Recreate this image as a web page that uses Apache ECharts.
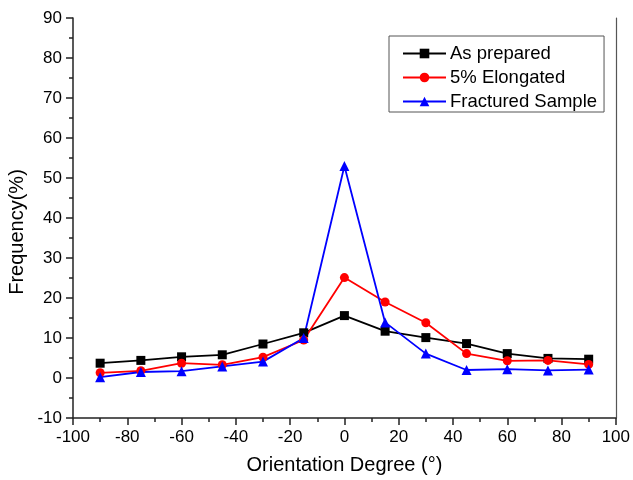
<!DOCTYPE html>
<html>
<head>
<meta charset="utf-8">
<script src="https://cdn.jsdelivr.net/npm/echarts@6/dist/echarts.min.js"></script>
<style>html,body{margin:0;padding:0;background:#fff}#c{width:633px;height:480px}</style>
</head>
<body>
<div id="c"></div>
<script>
const angles = [-90, -75, -60, -45, -30, -15, 0, 15, 30, 45, 60, 75, 90];
const asPrepared = [3.7, 4.4, 5.3, 5.8, 8.5, 11.3, 15.6, 11.7, 10.1, 8.6, 6.1, 4.9, 4.7];
const elongated = [1.3, 1.8, 3.7, 3.3, 5.2, 9.5, 25.1, 19.0, 13.8, 6.1, 4.3, 4.4, 3.4];
const fractured = [0.2, 1.5, 1.7, 2.9, 4.1, 10.0, 53.0, 13.9, 6.1, 2.0, 2.2, 1.9, 2.1];
const seriesNames = ['As prepared', '5% Elongated', 'Fractured Sample'];
const xTitle = 'Orientation Degree (°)';
const yTitle = 'Frequency(%)';

const FONT = 'Liberation Sans, Arial, sans-serif';
const pair = arr => angles.map((a, i) => [a, arr[i]]);

const chart = echarts.init(document.getElementById('c'), null, {renderer: 'canvas'});
chart.setOption({
  animation: false,
  backgroundColor: '#fff',
  grid: {left: 73, right: 16, top: 18, bottom: 58, containLabel: false},
  legend: {
    orient: 'vertical',
    left: 389, top: 36,
    padding: [8, 7, 1, 13],
    itemWidth: 43, itemHeight: 12, itemGap: 5,
    borderColor: '#555', borderWidth: 1,
    textStyle: {fontFamily: FONT, fontSize: 18.5, color: '#000', padding: [0, 0, 0, -1]},
    data: seriesNames
  },
  xAxis: {
    type: 'value', min: -100, max: 100, interval: 20,
    name: xTitle, nameLocation: 'middle', nameGap: 37,
    nameTextStyle: {fontFamily: FONT, fontSize: 20, color: '#000'},
    axisLine: {show: true, onZero: false, lineStyle: {color: '#222', width: 1.5}},
    axisTick: {show: true, inside: false, length: 7, lineStyle: {color: '#222', width: 1.5}},
    minorTick: {show: true, splitNumber: 2, length: 4, lineStyle: {color: '#222', width: 1.5}},
    axisLabel: {fontFamily: FONT, fontSize: 17, color: '#000', margin: 11},
    splitLine: {show: false}
  },
  yAxis: [{
    type: 'value', min: -10, max: 90, interval: 10,
    axisLine: {show: true, onZero: false, lineStyle: {color: '#222', width: 1.5}},
    axisTick: {show: true, inside: false, length: 7, lineStyle: {color: '#222', width: 1.5}},
    minorTick: {show: true, splitNumber: 2, length: 4, lineStyle: {color: '#222', width: 1.5}},
    axisLabel: {fontFamily: FONT, fontSize: 17, color: '#000', margin: 11},
    splitLine: {show: false}
  }, {
    type: 'value', min: -10, max: 90, interval: 10, position: 'right',
    axisLine: {show: true, onZero: false, lineStyle: {color: '#555', width: 1.2}},
    axisTick: {show: false}, axisLabel: {show: false}, splitLine: {show: false}
  }],
  graphic: [{
    type: 'text', x: 17, y: 232, rotation: Math.PI / 2,
    style: {text: yTitle, fontFamily: FONT, fontSize: 20, fill: '#000', align: 'center', verticalAlign: 'middle'}
  }],
  series: [
    {name: seriesNames[0], type: 'line', data: pair(asPrepared), symbol: 'rect', symbolSize: 9,
     lineStyle: {color: '#000', width: 1.8}, itemStyle: {color: '#000'}},
    {name: seriesNames[1], type: 'line', data: pair(elongated), symbol: 'circle', symbolSize: 9,
     lineStyle: {color: '#ff0000', width: 1.8}, itemStyle: {color: '#ff0000'}},
    {name: seriesNames[2], type: 'line', data: pair(fractured), symbol: 'triangle', symbolSize: 10,
     lineStyle: {color: '#0000ff', width: 1.8}, itemStyle: {color: '#0000ff'}}
  ]
});
</script>
</body>
</html>
